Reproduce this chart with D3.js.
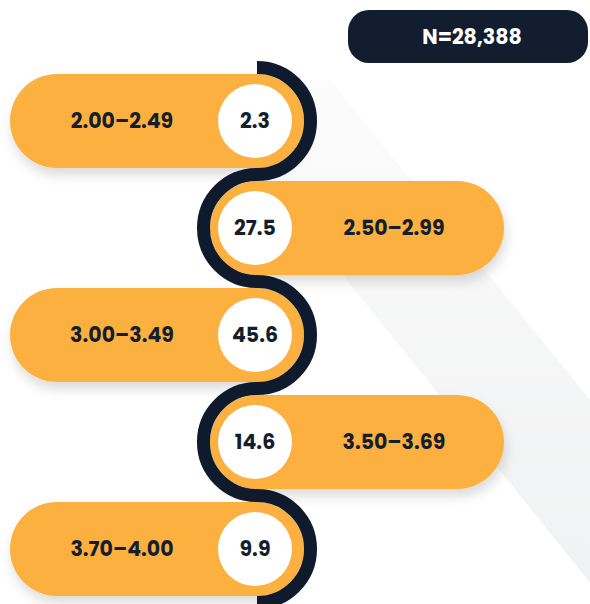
<!DOCTYPE html>
<html>
<head>
<meta charset="utf-8">
<script src="https://cdn.jsdelivr.net/npm/d3@7"></script>
<style>
  body { margin: 0; background: #fff; }
  svg { display: block; }
  text { font-family: Poppins, Inter, "Noto Sans", sans-serif; font-weight: 700; }
</style>
</head>
<body>
<svg id="chart" width="590" height="604"></svg>
<script>
// GPA bands and share of students (%)
const categories = ['2.00–2.49', '2.50–2.99', '3.00–3.49', '3.50–3.69', '3.70–4.00'];
const values = [2.3, 27.5, 45.6, 14.6, 9.9];
const totalN = 28388;

const width = 590, height = 604;
const orange = '#fbb041';
const navy = '#0f1b2d';
const ink = '#141e2d';
const fontSize = 20.5;

const svg = d3.select('#chart');
const defs = svg.append('defs');

// soft shadow under the pills
const shadow = defs.append('filter')
  .attr('id', 'shadow')
  .attr('x', '-20%').attr('y', '-30%')
  .attr('width', '140%').attr('height', '170%');
shadow.append('feDropShadow')
  .attr('dx', 2).attr('dy', 7)
  .attr('stdDeviation', 6)
  .attr('flood-color', '#000')
  .attr('flood-opacity', 0.14);

const grad = defs.append('linearGradient')
  .attr('id', 'band')
  .attr('x1', 0).attr('y1', 0).attr('x2', 0).attr('y2', 1);
grad.append('stop').attr('offset', '0%').attr('stop-color', '#fcfcfc');
grad.append('stop').attr('offset', '100%').attr('stop-color', '#f0f1f2');

// faint diagonal band in the background
svg.append('path')
  .attr('d', 'M186,80 L330,80 L600,412 L600,595 Z')
  .attr('fill', 'url(#band)');

// vertical positions of the rows
const y = d3.scalePoint()
  .domain(categories)
  .range([121, 549]);

const step = y.step();
const r = step / 2;          // radius of the serpentine line
const capR = 47;             // pill half-height
const cx = 257;              // centre of the pill caps
const pillLen = 294;

// pills
const rows = svg.append('g')
  .selectAll('g')
  .data(categories)
  .join('g');

rows.append('rect')
  .attr('x', (d, i) => i % 2 === 0 ? cx + capR - pillLen : cx - capR)
  .attr('y', d => y(d) - capR)
  .attr('width', pillLen)
  .attr('height', capR * 2)
  .attr('rx', capR)
  .attr('fill', orange)
  .attr('filter', 'url(#shadow)');

// serpentine line
const p = d3.path();
p.moveTo(cx, y(categories[0]) - r);
categories.forEach((c, i) => {
  p.arc(cx, y(c), r, -Math.PI / 2, Math.PI / 2, i % 2 === 1);
});
svg.append('path')
  .attr('d', p.toString())
  .attr('fill', 'none')
  .attr('stroke', navy)
  .attr('stroke-width', 13);

// value circles
rows.append('circle')
  .attr('cx', cx - 2)
  .attr('cy', d => y(d))
  .attr('r', 37)
  .attr('fill', '#fff');

rows.append('text')
  .attr('x', cx - 2)
  .attr('y', d => y(d))
  .attr('dy', '0.35em')
  .attr('text-anchor', 'middle')
  .attr('font-size', fontSize)
  .attr('fill', ink)
  .text((d, i) => d3.format('.1f')(values[i]));

rows.append('text')
  .attr('x', (d, i) => i % 2 === 0 ? cx - 135 : cx + 137)
  .attr('y', d => y(d))
  .attr('dy', '0.35em')
  .attr('text-anchor', 'middle')
  .attr('font-size', fontSize)
  .attr('fill', ink)
  .text(d => d);

// N badge
const badge = svg.append('g');
badge.append('rect')
  .attr('x', 348).attr('y', 10)
  .attr('width', 240).attr('height', 53)
  .attr('rx', 21)
  .attr('fill', '#121e30');
badge.append('text')
  .attr('x', 472).attr('y', 37)
  .attr('dy', '0.35em')
  .attr('text-anchor', 'middle')
  .attr('font-size', fontSize)
  .attr('fill', '#fff')
  .text('N=' + d3.format(',')(totalN));
</script>
</body>
</html>
